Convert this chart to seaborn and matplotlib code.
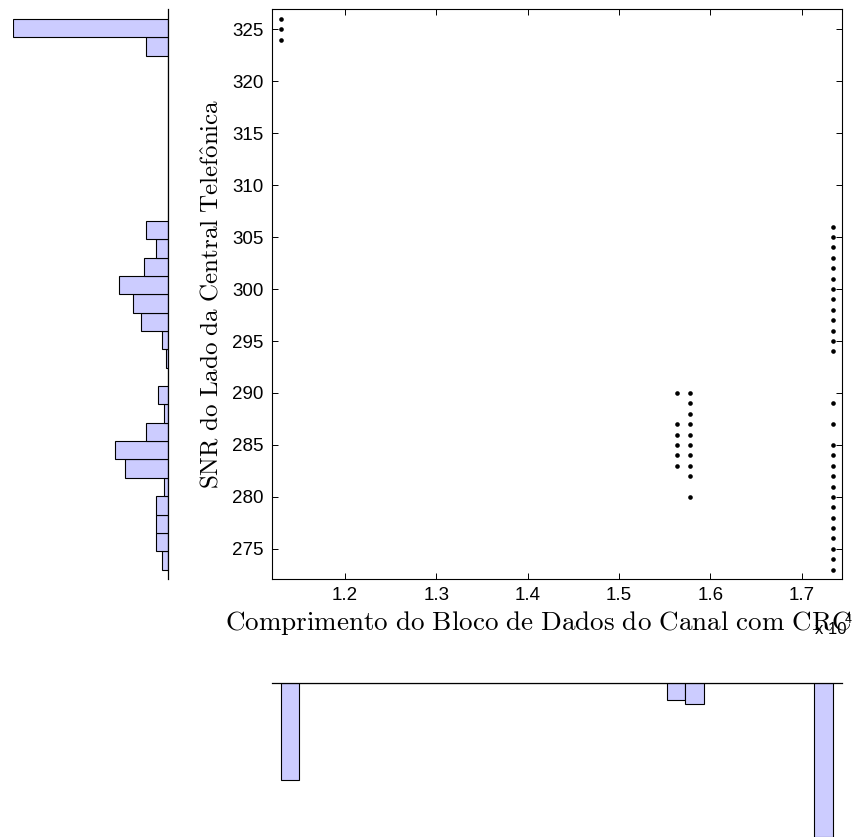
import numpy as np
import pandas as pd
import matplotlib
matplotlib.use("Agg")
import matplotlib.pyplot as plt
import seaborn as sns

# Comprimento do bloco (x) de cada coluna de pontos
bloco_a = 11296
bloco_b = 15639
bloco_c = 15778
bloco_d = 17339

# SNR observado em cada coluna e quantas ocorrências de cada valor
snr_a = [324, 325, 326]
n_a = [11, 40, 40]
snr_b = [283, 284, 285, 286, 287, 290]
n_b = [3, 4, 3, 3, 2, 1]
snr_c = [280, 282, 283, 284, 285, 286, 287, 288, 289, 290]
n_c = [1, 1, 2, 3, 3, 3, 2, 2, 1, 2]
snr_d = [273, 274, 275, 276, 277, 278, 279, 280, 281, 282, 283, 284, 285, 287, 289,
         294, 295, 296, 297, 298, 299, 300, 301, 302, 303, 304, 305, 306]
n_d = [1, 2, 3, 3, 3, 3, 2, 3, 2, 8, 8, 7, 7, 1, 1,
       1, 3, 7, 7, 9, 9, 13, 12, 6, 6, 6, 6, 5]

xticks = [12000, 13000, 14000, 15000, 16000, 17000]
xtick_labels = ["1.2", "1.3", "1.4", "1.5", "1.6", "1.7"]
yticks = [275, 280, 285, 290, 295, 300, 305, 310, 315, 320, 325]

partes = []
for bloco, snr, n in [(bloco_a, snr_a, n_a), (bloco_b, snr_b, n_b),
                      (bloco_c, snr_c, n_c), (bloco_d, snr_d, n_d)]:
    partes.append(pd.DataFrame({"bloco": bloco, "snr": snr, "n": n}))
df = pd.concat(partes, ignore_index=True)

plt.rcParams["font.family"] = ["Liberation Sans", "DejaVu Sans"]
plt.rcParams["mathtext.fontset"] = "cm"

W, H = 853, 838
fig = plt.figure(figsize=(W / 100, H / 100), dpi=100)
ax = fig.add_axes([271.7 / W, (H - 579) / H, 570 / W, 570 / H])
ax_l = fig.add_axes([12.7 / W, (H - 579) / H, 155 / W, 570 / H])
ax_b = fig.add_axes([271.7 / W, (H - 836.7) / H, 570 / W, 154 / H])

azul = "#ccccff"

# dispersão principal
sns.scatterplot(data=df, x="bloco", y="snr", ax=ax, color="black", s=11,
                linewidth=0, legend=False)
ax.set_xlim(11197, 17438)
ax.set_ylim(272.1, 326.95)
ax.set_xticks(xticks, xtick_labels)
ax.set_yticks(yticks)
ax.tick_params(direction="in", length=4.5, width=0.7, labelsize=13.5,
               top=True, right=True, pad=6)
for s in ax.spines.values():
    s.set_linewidth(0.8)
ax.set_xlabel("")
ax.set_ylabel("")

fig.text(538 / W, 1 - 623 / H,
         r"$\mathrm{Comprimento\ do\ Bloco\ de\ Dados\ do\ Canal\ com\ CRC}$",
         ha="center", va="center", fontsize=19.5)
fig.text(211 / W, 1 - 294 / H,
         r"$\mathrm{SNR\ do\ Lado\ da\ Central\ Telef\hat{o}nica}$",
         ha="center", va="center", rotation=90, fontsize=18)
fig.text(831 / W, 1 - 630 / H, "x 10", ha="center", va="center", fontsize=12)
fig.text(848 / W, 1 - 620 / H, "4", ha="center", va="center", fontsize=9)

# histograma marginal de SNR (esquerda)
sns.histplot(data=df, y="snr", weights="n", bins=30, ax=ax_l, color=azul,
             edgecolor="black", linewidth=0.8, alpha=1)
ax_l.set_ylim(272.1, 326.95)
ax_l.set_xlim(80, 0)

# histograma marginal do comprimento (embaixo)
sns.histplot(data=df, x="bloco", weights="n", bins=30, ax=ax_b, color=azul,
             edgecolor="black", linewidth=0.8, alpha=1)
ax_b.set_xlim(11197, 17438)
ax_b.set_ylim(144, 0)

for a, lado in [(ax_l, "right"), (ax_b, "top")]:
    for nome, s in a.spines.items():
        s.set_visible(nome == lado)
        s.set_linewidth(0.9)
    a.set_xticks([])
    a.set_yticks([])
    a.set_xlabel("")
    a.set_ylabel("")
    a.patch.set_alpha(0)

fig.savefig("out.png", dpi=100)
